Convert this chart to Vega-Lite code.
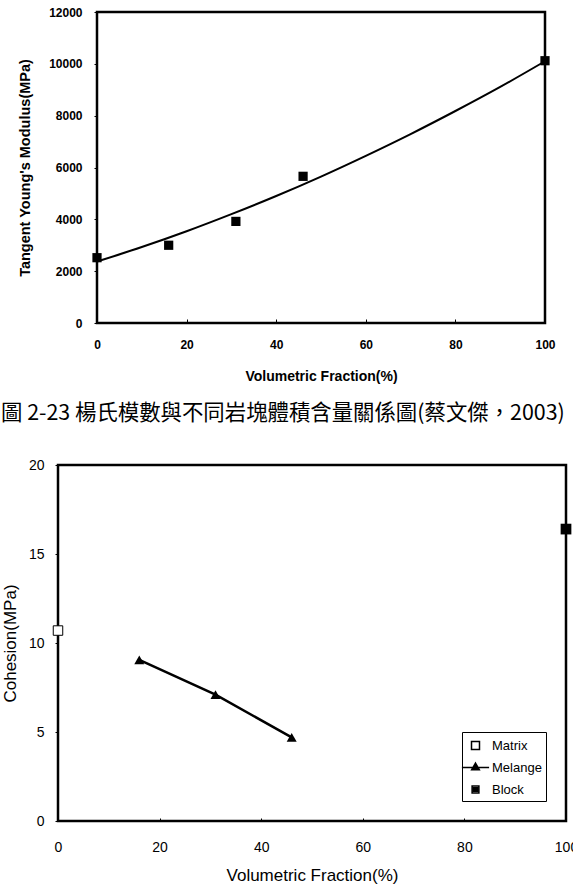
{
  "$schema": "https://vega.github.io/schema/vega-lite/v6.json",
  "padding": {"left": 0, "top": 6, "right": 0, "bottom": 0},
  "spacing": 31,
  "resolve": {
    "scale": {"shape": "independent", "fill": "independent"},
    "legend": {"shape": "independent", "fill": "independent"}
  },
  "datasets": {
    "youngPts": [
      {"frac": 0, "E": 2520},
      {"frac": 16, "E": 3000},
      {"frac": 31, "E": 3920},
      {"frac": 46, "E": 5660},
      {"frac": 100, "E": 10120}
    ],
    "youngCurve": [
      {"frac": 0, "E": 2370},
      {"frac": 10, "E": 2930},
      {"frac": 20, "E": 3540},
      {"frac": 30, "E": 4200},
      {"frac": 40, "E": 4900},
      {"frac": 50, "E": 5650},
      {"frac": 60, "E": 6450},
      {"frac": 70, "E": 7290},
      {"frac": 80, "E": 8180},
      {"frac": 90, "E": 9110},
      {"frac": 100, "E": 10100}
    ],
    "cohesion": [
      {"frac": 0, "coh": 10.7, "series": "Matrix"},
      {"frac": 16, "coh": 9.05, "series": "Melange"},
      {"frac": 31, "coh": 7.1, "series": "Melange"},
      {"frac": 46, "coh": 4.7, "series": "Melange"},
      {"frac": 100, "coh": 16.4, "series": "Block"}
    ]
  },
  "vconcat": [
    {
      "width": 487,
      "height": 311,
      "view": {"stroke": null},
      "title": {
        "text": "圖 2-23 楊氏模數與不同岩塊體積含量關係圖(蔡文傑，2003)",
        "orient": "bottom",
        "anchor": "start",
        "frame": "group",
        "dx": -57,
        "offset": 20,
        "font": "Noto Sans CJK TC",
        "fontSize": 21.4,
        "fontWeight": "normal",
        "color": "black"
      },
      "encoding": {
        "x": {
          "field": "frac", "type": "quantitative",
          "scale": {"domain": [-8.705, 100], "nice": false, "zero": false},
          "axis": {
            "values": [0, 20, 40, 60, 80, 100],
            "title": "Volumetric Fraction(%)",
            "titleX": 263,
            "labelFlush": false,
            "tickSize": -4,
            "labelPadding": 20,
            "labelFont": "Liberation Sans", "labelFontSize": 12, "labelFontWeight": "bold",
            "titleFont": "Liberation Sans", "titleFontSize": 14, "titleFontWeight": "bold",
            "titlePadding": 19
          }
        },
        "y": {
          "field": "E", "type": "quantitative",
          "scale": {"domain": [0, 12000], "nice": false},
          "axis": {
            "values": [0, 2000, 4000, 6000, 8000, 10000, 12000],
            "format": "d",
            "offset": -39,
            "title": "Tangent Young's Modulus(MPa)",
            "tickSize": 3,
            "labelPadding": 12,
            "labelFont": "Liberation Sans", "labelFontSize": 12, "labelFontWeight": "bold",
            "titleFont": "Liberation Sans", "titleFontSize": 14.5, "titleFontWeight": "bold",
            "titlePadding": 16
          }
        }
      },
      "layer": [
        {
          "data": {"values": [{"x0": 0, "x1": 100, "y0": 0, "y1": 12000}]},
          "mark": {"type": "rect", "fill": null, "fillOpacity": 0, "stroke": "black", "strokeWidth": 2.5},
          "encoding": {
            "x": {"field": "x0", "type": "quantitative"},
            "x2": {"field": "x1"},
            "y": {"field": "y0", "type": "quantitative"},
            "y2": {"field": "y1"}
          }
        },
        {
          "data": {"name": "youngCurve"},
          "mark": {"type": "line", "color": "black", "strokeWidth": 2, "interpolate": "monotone"}
        },
        {
          "data": {"name": "youngPts"},
          "mark": {"type": "point", "shape": "square", "filled": true, "color": "black", "size": 85, "opacity": 1}
        }
      ]
    },
    {
      "width": 508,
      "height": 356,
      "data": {"name": "cohesion"},
      "encoding": {
        "x": {
          "field": "frac", "type": "quantitative",
          "scale": {"domain": [0, 100], "nice": false},
          "axis": {
            "values": [0, 20, 40, 60, 80, 100],
            "title": "Volumetric Fraction(%)",
            "labelFlush": false,
            "tickSize": -3,
            "labelPadding": 22,
            "labelFont": "Liberation Sans", "labelFontSize": 14, "labelFontWeight": "normal",
            "titleFont": "Liberation Sans", "titleFontSize": 17, "titleFontWeight": "normal",
            "titlePadding": 13
          }
        },
        "y": {
          "field": "coh", "type": "quantitative",
          "scale": {"domain": [0, 20], "nice": false},
          "axis": {
            "values": [0, 5, 10, 15, 20],
            "title": "Cohesion(MPa)",
            "tickSize": 3,
            "labelPadding": 11,
            "labelFont": "Liberation Sans", "labelFontSize": 14, "labelFontWeight": "normal",
            "titleFont": "Liberation Sans", "titleFontSize": 17, "titleFontWeight": "normal",
            "titlePadding": 9
          }
        }
      },
      "layer": [
        {
          "transform": [{"filter": "datum.series === 'Melange'"}],
          "mark": {"type": "line", "color": "black", "strokeWidth": 2.5}
        },
        {
          "transform": [{"filter": "datum.series === 'Matrix'"}],
          "mark": {"type": "point", "shape": "square", "size": 90, "filled": true, "fill": "white", "stroke": "black", "strokeWidth": 1, "opacity": 1}
        },
        {
          "transform": [{"filter": "datum.series === 'Melange'"}],
          "mark": {"type": "point", "shape": "triangle-up", "size": 100, "filled": true, "color": "black", "opacity": 1}
        },
        {
          "transform": [{"filter": "datum.series === 'Block'"}],
          "mark": {"type": "point", "shape": "square", "size": 115, "filled": true, "color": "black", "opacity": 1}
        },
        {
          "transform": [{"filter": "false"}],
          "mark": {"type": "point", "stroke": "black", "strokeWidth": 1, "opacity": 1},
          "encoding": {
            "shape": {
              "field": "series", "type": "nominal",
              "scale": {
                "domain": ["Matrix", "Melange", "Block"],
                "range": [
                  "M-0.47,-0.47H0.47V0.47H-0.47Z",
                  "M-1.6,0H1.6M0,-0.52L0.45,0.26H-0.45ZM0,-0.31L0.27,0.16H-0.27ZM0,-0.1L0.09,0.05H-0.09Z",
                  "M-0.4,-0.4H0.4V0.4H-0.4ZM-0.22,-0.22H0.22V0.22H-0.22ZM-0.05,-0.05H0.05V0.05H-0.05Z"
                ]
              },
              "legend": {
                "title": null,
                "orient": "bottom-right",
                "offset": 20,
                "padding": 4,
                "strokeColor": "black",
                "fillColor": "white",
                "symbolSize": 289,
                "rowPadding": 5,
                "labelOffset": 7,
                "labelFont": "Liberation Sans",
                "labelFontSize": 13,
                "labelColor": "black",
                "symbolOpacity": 1,
                "symbolStrokeColor": "black",
                "encode": {
                  "symbols": {
                    "stroke": {"value": "black"},
                    "strokeWidth": {"value": {"expr": "datum.value === 'Matrix' ? 1 : 2.5"}}
                  }
                }
              }
            }
          }
        }
      ]
    }
  ],
  "config": {
    "view": {"stroke": "black", "strokeWidth": 2.5},
    "axis": {"domain": false, "grid": false, "tickColor": "black", "tickWidth": 1, "labelColor": "black", "titleColor": "black"},
    "background": "white"
  }
}
